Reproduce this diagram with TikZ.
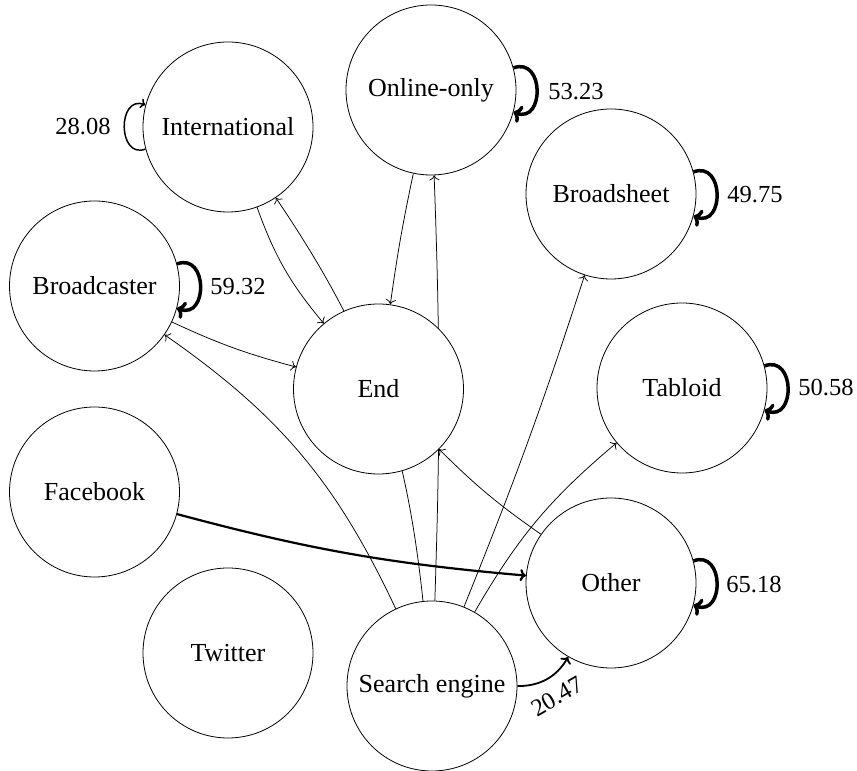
\documentclass[tikz,border=0pt]{standalone}
\usepackage{fontspec}
\setmainfont{Liberation Serif}
\usetikzlibrary{arrows.meta,backgrounds}
\begin{document}
\begin{tikzpicture}[x=1pt,y=1pt,
  st/.style={circle, draw, line width=0.8pt, fill=white, minimum size=170pt, inner sep=0pt, font=\fontsize{26}{30}\selectfont},
  ed/.style={-{To[length=5pt,width=10pt]}, line width=0.75pt},
  lp/.style={-{To[length=8pt,width=18pt]}, line width=3.5pt},
  lab/.style={font=\fontsize{24.5}{28}\selectfont, inner sep=0pt}]
\useasboundingbox (0,0) rectangle (857,771);
\node[st] (int) at (228,644) {International};
\node[st] (onl) at (431,681) {Online-only};
\node[st] (brs) at (611,577) {Broadsheet};
\node[st] (brc) at (94.5,485) {Broadcaster};
\node[st] (end) at (378.5,382) {End};
\node[st] (tab) at (682,383) {Tabloid};
\node[st] (fb) at (94.5,279) {Facebook};
\node[st] (oth) at (611,188) {Other};
\node[st] (tw) at (228,118) {Twitter};
\node[st] (se) at (432,85) {Search engine};
\begin{scope}[on background layer]
\draw[ed] (int) to[bend right=10] (end);
\draw[ed] (se) to[bend right=14] (int);
\draw[ed] (onl) to[bend right=2] (end);
\draw[ed] (se) to[bend right=2] (onl);
\draw[ed] (se) to[bend right=2] (brs);
\draw[ed] (se) to[bend left=10] (tab);
\draw[ed] (se) to[bend right=15] (brc);
\draw[ed] (brc) to[bend right=5] (end);
\draw[ed] (oth) to[bend left=5] (end);
\draw[-{To[length=6pt,width=12pt]}, line width=2.2pt] (fb) to[bend right=5] (oth);
\draw[-{To[length=6pt,width=12pt]}, line width=1.8pt] (se) to[bend right=30] node[lab, sloped, below=11pt] {20.47} (oth);
\end{scope}
\draw[-{To[length=5pt,width=10pt]}, line width=1.5pt] (int.195) .. controls +(200:30) and +(160:30) .. (int.165);
\draw[lp] (onl.15) .. controls +(20:33) and +(-20:33) .. (onl.-15);
\draw[lp] (brs.15) .. controls +(20:33) and +(-20:33) .. (brs.-15);
\draw[lp] (brc.15) .. controls +(20:33) and +(-20:33) .. (brc.-15);
\draw[lp] (tab.15) .. controls +(20:33) and +(-20:33) .. (tab.-15);
\draw[lp] (oth.15) .. controls +(20:33) and +(-20:33) .. (oth.-15);
\node[lab] (l1) at (83,644) {28.08};
\node[lab] (l2) at (238,484) {59.32};
\node[lab] (l3) at (576,679) {53.23};
\node[lab] (l4) at (755,576) {49.75};
\node[lab] (l5) at (826,383) {50.58};
\node[lab] (l6) at (754,186) {65.18};
\end{tikzpicture}
\end{document}
